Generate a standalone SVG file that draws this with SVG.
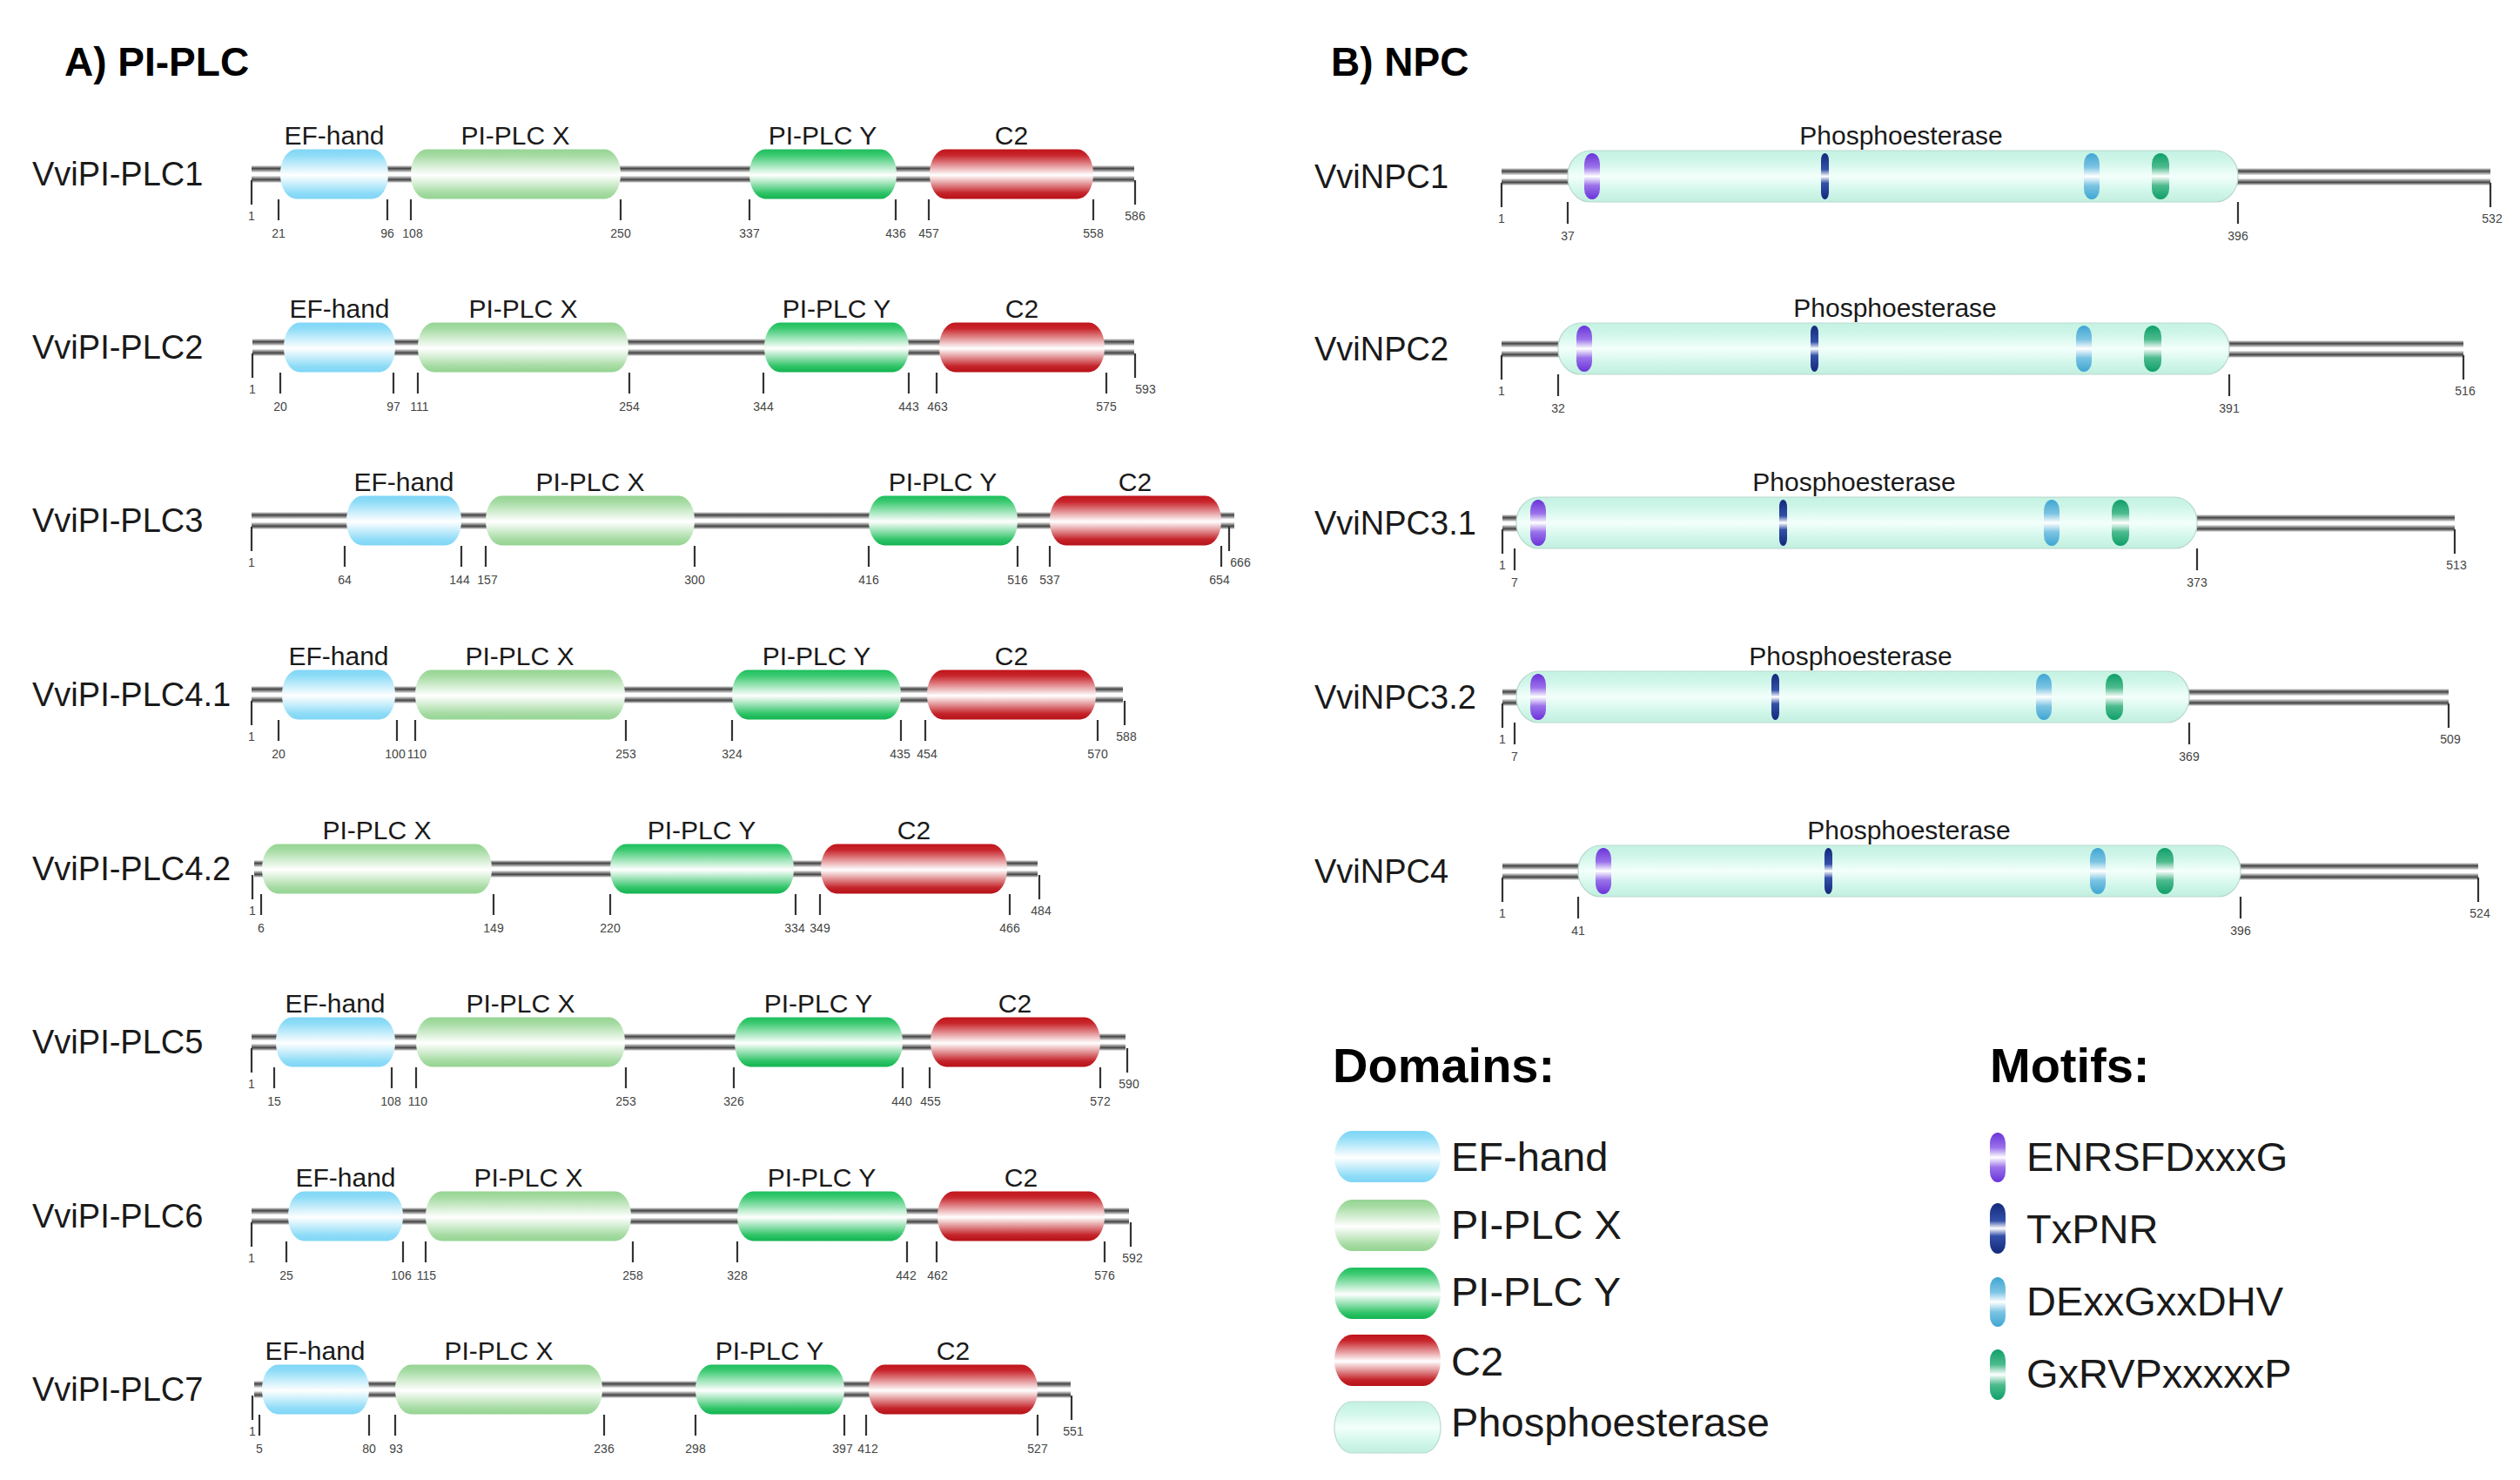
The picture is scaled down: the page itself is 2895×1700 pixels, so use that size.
<svg xmlns="http://www.w3.org/2000/svg" width="2895" height="1700" viewBox="0 0 2895 1700">
<defs>
<linearGradient id="gBB" x1="0" y1="0" x2="0" y2="1">
<stop offset="0" stop-color="#fff"/><stop offset="0.08" stop-color="#9a9a9a"/><stop offset="0.18" stop-color="#474747"/><stop offset="0.3" stop-color="#9a9a9a"/><stop offset="0.42" stop-color="#fff"/><stop offset="0.58" stop-color="#fff"/><stop offset="0.7" stop-color="#9a9a9a"/><stop offset="0.82" stop-color="#474747"/><stop offset="0.92" stop-color="#9a9a9a"/><stop offset="1" stop-color="#fff"/>
</linearGradient>
<linearGradient id="gEF" x1="0" y1="0" x2="0" y2="1">
<stop offset="0" stop-color="#7fd6f6"/><stop offset="0.12" stop-color="#8edcf7"/><stop offset="0.52" stop-color="#ffffff"/><stop offset="0.88" stop-color="#8edcf7"/><stop offset="1" stop-color="#7fd6f6"/>
</linearGradient>
<linearGradient id="gX" x1="0" y1="0" x2="0" y2="1">
<stop offset="0" stop-color="#95d492"/><stop offset="0.12" stop-color="#a5dba2"/><stop offset="0.52" stop-color="#ffffff"/><stop offset="0.88" stop-color="#a5dba2"/><stop offset="1" stop-color="#95d492"/>
</linearGradient>
<linearGradient id="gY" x1="0" y1="0" x2="0" y2="1">
<stop offset="0" stop-color="#1cbf5c"/><stop offset="0.12" stop-color="#3dca72"/><stop offset="0.52" stop-color="#ffffff"/><stop offset="0.88" stop-color="#30c468"/><stop offset="1" stop-color="#12b350"/>
</linearGradient>
<linearGradient id="gC2" x1="0" y1="0" x2="0" y2="1">
<stop offset="0" stop-color="#c0141b"/><stop offset="0.12" stop-color="#c8262c"/><stop offset="0.52" stop-color="#ffffff"/><stop offset="0.88" stop-color="#c4242a"/><stop offset="1" stop-color="#b71118"/>
</linearGradient>
<linearGradient id="gPh" x1="0" y1="0" x2="0" y2="1">
<stop offset="0" stop-color="#c4f2e2"/><stop offset="0.2" stop-color="#cff6e9"/><stop offset="0.5" stop-color="#f3fffb"/><stop offset="0.8" stop-color="#cff6e9"/><stop offset="1" stop-color="#c2efdf"/>
</linearGradient>
<linearGradient id="mP" x1="0" y1="0" x2="0" y2="1">
<stop offset="0" stop-color="#6b33d9"/><stop offset="0.3" stop-color="#9a72ea"/><stop offset="0.5" stop-color="#ffffff"/><stop offset="0.7" stop-color="#9a72ea"/><stop offset="1" stop-color="#6b33d9"/>
</linearGradient>
<linearGradient id="mB" x1="0" y1="0" x2="0" y2="1">
<stop offset="0" stop-color="#13297a"/><stop offset="0.35" stop-color="#3350a8"/><stop offset="0.5" stop-color="#ffffff"/><stop offset="0.65" stop-color="#3350a8"/><stop offset="1" stop-color="#13297a"/>
</linearGradient>
<linearGradient id="mL" x1="0" y1="0" x2="0" y2="1">
<stop offset="0" stop-color="#3fa6d2"/><stop offset="0.3" stop-color="#7cc4e3"/><stop offset="0.5" stop-color="#ffffff"/><stop offset="0.7" stop-color="#7cc4e3"/><stop offset="1" stop-color="#3fa6d2"/>
</linearGradient>
<linearGradient id="mG" x1="0" y1="0" x2="0" y2="1">
<stop offset="0" stop-color="#0e9f68"/><stop offset="0.3" stop-color="#4dbb8e"/><stop offset="0.5" stop-color="#ffffff"/><stop offset="0.7" stop-color="#4dbb8e"/><stop offset="1" stop-color="#0e9f68"/>
</linearGradient>
</defs>
<style>
text{font-family:"Liberation Sans",Arial,sans-serif;fill:#1a1a1a}
.ttl{font-size:46px;font-weight:bold;fill:#000}
.lg{font-size:56px;font-weight:bold;fill:#000}
.lbl{font-size:38px}
.dl{font-size:30px;text-anchor:middle}
.n{font-size:14px;text-anchor:middle;fill:#444}
.li{font-size:47px}
.tk{stroke:#333;stroke-width:2.2}
.bb{fill:url(#gBB)}
.ef{fill:url(#gEF)}
.x{fill:url(#gX)}
.y{fill:url(#gY)}
.c2{fill:url(#gC2)}
.ph{fill:url(#gPh);stroke:#b9d9cd;stroke-width:1.2}
.mp{fill:url(#mP)}
.mb{fill:url(#mB)}
.ml{fill:url(#mL)}
.mg{fill:url(#mG)}
</style>
<rect width="2895" height="1700" fill="#fff"/>
<text class="ttl" x="74" y="87">A) PI-PLC</text>
<text class="ttl" x="1529" y="87">B) NPC</text>

<g id="plc1">
<text class="lbl" x="37" y="213">VviPI-PLC1</text>
<rect class="bb" x="289" y="190" width="1014" height="20"/>
<rect class="ef" x="322" y="171.5" width="124" height="57" rx="18" ry="28"/>
<rect class="x" x="472" y="171.5" width="241" height="57" rx="18" ry="28"/>
<rect class="y" x="861" y="171.5" width="169" height="57" rx="18" ry="28"/>
<rect class="c2" x="1068" y="171.5" width="188" height="57" rx="18" ry="28"/>
<text class="dl" x="384" y="166">EF-hand</text><text class="dl" x="592" y="166">PI-PLC X</text><text class="dl" x="945" y="166">PI-PLC Y</text><text class="dl" x="1162" y="166">C2</text>
<path class="tk" d="M289 207V235M1304 207V235M320 229V253M445 229V253M472 229V253M713 229V253M861 229V253M1029 229V253M1067 229V253M1256 229V253"/>
<text class="n" x="289" y="253">1</text><text class="n" x="1304" y="253">586</text>
<text class="n" x="320" y="273">21</text><text class="n" x="445" y="273">96</text><text class="n" x="474" y="273">108</text><text class="n" x="713" y="273">250</text><text class="n" x="861" y="273">337</text><text class="n" x="1029" y="273">436</text><text class="n" x="1067" y="273">457</text><text class="n" x="1256" y="273">558</text>
</g>

<g id="plc2">
<text class="lbl" x="37" y="412">VviPI-PLC2</text>
<rect class="bb" x="290" y="389" width="1013" height="20"/>
<rect class="ef" x="326" y="370.5" width="128" height="57" rx="18" ry="28"/>
<rect class="x" x="480" y="370.5" width="242" height="57" rx="18" ry="28"/>
<rect class="y" x="878" y="370.5" width="166" height="57" rx="18" ry="28"/>
<rect class="c2" x="1079" y="370.5" width="190" height="57" rx="18" ry="28"/>
<text class="dl" x="390" y="365">EF-hand</text><text class="dl" x="601" y="365">PI-PLC X</text><text class="dl" x="961" y="365">PI-PLC Y</text><text class="dl" x="1174" y="365">C2</text>
<path class="tk" d="M290 406V434M1304 406V434M322 428V452M452 428V452M480 428V452M723 428V452M877 428V452M1044 428V452M1076 428V452M1271 428V452"/>
<text class="n" x="290" y="452">1</text><text class="n" x="1316" y="452">593</text>
<text class="n" x="322" y="472">20</text><text class="n" x="452" y="472">97</text><text class="n" x="482" y="472">111</text><text class="n" x="723" y="472">254</text><text class="n" x="877" y="472">344</text><text class="n" x="1044" y="472">443</text><text class="n" x="1077" y="472">463</text><text class="n" x="1271" y="472">575</text>
</g>

<g id="plc3">
<text class="lbl" x="37" y="611">VviPI-PLC3</text>
<rect class="bb" x="289" y="588" width="1129" height="20"/>
<rect class="ef" x="398" y="569.5" width="132" height="57" rx="18" ry="28"/>
<rect class="x" x="558" y="569.5" width="240" height="57" rx="18" ry="28"/>
<rect class="y" x="998" y="569.5" width="171" height="57" rx="18" ry="28"/>
<rect class="c2" x="1206" y="569.5" width="197" height="57" rx="18" ry="28"/>
<text class="dl" x="464" y="564">EF-hand</text><text class="dl" x="678" y="564">PI-PLC X</text><text class="dl" x="1083" y="564">PI-PLC Y</text><text class="dl" x="1304" y="564">C2</text>
<path class="tk" d="M289 605V633M1412 605V633M396 627V651M530 627V651M558 627V651M798 627V651M998 627V651M1169 627V651M1206 627V651M1403 627V651"/>
<text class="n" x="289" y="651">1</text><text class="n" x="1425" y="651">666</text>
<text class="n" x="396" y="671">64</text><text class="n" x="528" y="671">144</text><text class="n" x="560" y="671">157</text><text class="n" x="798" y="671">300</text><text class="n" x="998" y="671">416</text><text class="n" x="1169" y="671">516</text><text class="n" x="1206" y="671">537</text><text class="n" x="1401" y="671">654</text>
</g>

<g id="plc41">
<text class="lbl" x="37" y="811">VviPI-PLC4.1</text>
<rect class="bb" x="289" y="788" width="1001" height="20"/>
<rect class="ef" x="324" y="769.5" width="130" height="57" rx="18" ry="28"/>
<rect class="x" x="477" y="769.5" width="241" height="57" rx="18" ry="28"/>
<rect class="y" x="841" y="769.5" width="194" height="57" rx="18" ry="28"/>
<rect class="c2" x="1065" y="769.5" width="194" height="57" rx="18" ry="28"/>
<text class="dl" x="389" y="764">EF-hand</text><text class="dl" x="597" y="764">PI-PLC X</text><text class="dl" x="938" y="764">PI-PLC Y</text><text class="dl" x="1162" y="764">C2</text>
<path class="tk" d="M289 805V833M1292 805V833M320 827V851M456 827V851M477 827V851M719 827V851M841 827V851M1035 827V851M1063 827V851M1261 827V851"/>
<text class="n" x="289" y="851">1</text><text class="n" x="1294" y="851">588</text>
<text class="n" x="320" y="871">20</text><text class="n" x="454" y="871">100</text><text class="n" x="479" y="871">110</text><text class="n" x="719" y="871">253</text><text class="n" x="841" y="871">324</text><text class="n" x="1034" y="871">435</text><text class="n" x="1065" y="871">454</text><text class="n" x="1261" y="871">570</text>
</g>

<g id="plc42">
<text class="lbl" x="37" y="1011">VviPI-PLC4.2</text>
<rect class="bb" x="292" y="988" width="900" height="20"/>
<rect class="x" x="301" y="969.5" width="264" height="57" rx="18" ry="28"/>
<rect class="y" x="701" y="969.5" width="211" height="57" rx="18" ry="28"/>
<rect class="c2" x="943" y="969.5" width="214" height="57" rx="18" ry="28"/>
<text class="dl" x="433" y="964">PI-PLC X</text><text class="dl" x="806" y="964">PI-PLC Y</text><text class="dl" x="1050" y="964">C2</text>
<path class="tk" d="M290 1005V1033M1194 1005V1033M300 1027V1051M567 1027V1051M701 1027V1051M914 1027V1051M942 1027V1051M1160 1027V1051"/>
<text class="n" x="290" y="1051">1</text><text class="n" x="1196" y="1051">484</text>
<text class="n" x="300" y="1071">6</text><text class="n" x="567" y="1071">149</text><text class="n" x="701" y="1071">220</text><text class="n" x="913" y="1071">334</text><text class="n" x="942" y="1071">349</text><text class="n" x="1160" y="1071">466</text>
</g>

<g id="plc5">
<text class="lbl" x="37" y="1210">VviPI-PLC5</text>
<rect class="bb" x="289" y="1187" width="1004" height="20"/>
<rect class="ef" x="317" y="1168.5" width="137" height="57" rx="18" ry="28"/>
<rect class="x" x="478" y="1168.5" width="240" height="57" rx="18" ry="28"/>
<rect class="y" x="844" y="1168.5" width="193" height="57" rx="18" ry="28"/>
<rect class="c2" x="1069" y="1168.5" width="195" height="57" rx="18" ry="28"/>
<text class="dl" x="385" y="1163">EF-hand</text><text class="dl" x="598" y="1163">PI-PLC X</text><text class="dl" x="940" y="1163">PI-PLC Y</text><text class="dl" x="1166" y="1163">C2</text>
<path class="tk" d="M289 1204V1232M1295 1204V1232M315 1226V1250M450 1226V1250M478 1226V1250M719 1226V1250M843 1226V1250M1037 1226V1250M1068 1226V1250M1264 1226V1250"/>
<text class="n" x="289" y="1250">1</text><text class="n" x="1297" y="1250">590</text>
<text class="n" x="315" y="1270">15</text><text class="n" x="449" y="1270">108</text><text class="n" x="480" y="1270">110</text><text class="n" x="719" y="1270">253</text><text class="n" x="843" y="1270">326</text><text class="n" x="1036" y="1270">440</text><text class="n" x="1069" y="1270">455</text><text class="n" x="1264" y="1270">572</text>
</g>

<g id="plc6">
<text class="lbl" x="37" y="1410">VviPI-PLC6</text>
<rect class="bb" x="289" y="1387" width="1008" height="20"/>
<rect class="ef" x="331" y="1368.5" width="132" height="57" rx="18" ry="28"/>
<rect class="x" x="489" y="1368.5" width="236" height="57" rx="18" ry="28"/>
<rect class="y" x="847" y="1368.5" width="195" height="57" rx="18" ry="28"/>
<rect class="c2" x="1077" y="1368.5" width="192" height="57" rx="18" ry="28"/>
<text class="dl" x="397" y="1363">EF-hand</text><text class="dl" x="607" y="1363">PI-PLC X</text><text class="dl" x="944" y="1363">PI-PLC Y</text><text class="dl" x="1173" y="1363">C2</text>
<path class="tk" d="M289 1404V1432M1299 1404V1432M329 1426V1450M463 1426V1450M489 1426V1450M727 1426V1450M847 1426V1450M1042 1426V1450M1076 1426V1450M1269 1426V1450"/>
<text class="n" x="289" y="1450">1</text><text class="n" x="1301" y="1450">592</text>
<text class="n" x="329" y="1470">25</text><text class="n" x="461" y="1470">106</text><text class="n" x="490" y="1470">115</text><text class="n" x="727" y="1470">258</text><text class="n" x="847" y="1470">328</text><text class="n" x="1041" y="1470">442</text><text class="n" x="1077" y="1470">462</text><text class="n" x="1269" y="1470">576</text>
</g>

<g id="plc7">
<text class="lbl" x="37" y="1609">VviPI-PLC7</text>
<rect class="bb" x="292" y="1586" width="938" height="20"/>
<rect class="ef" x="301" y="1567.5" width="123" height="57" rx="18" ry="28"/>
<rect class="x" x="454" y="1567.5" width="238" height="57" rx="18" ry="28"/>
<rect class="y" x="799" y="1567.5" width="171" height="57" rx="18" ry="28"/>
<rect class="c2" x="998" y="1567.5" width="194" height="57" rx="18" ry="28"/>
<text class="dl" x="362" y="1562">EF-hand</text><text class="dl" x="573" y="1562">PI-PLC X</text><text class="dl" x="884" y="1562">PI-PLC Y</text><text class="dl" x="1095" y="1562">C2</text>
<path class="tk" d="M290 1603V1631M1231 1603V1631M298 1625V1649M424 1625V1649M454 1625V1649M694 1625V1649M799 1625V1649M970 1625V1649M995 1625V1649M1192 1625V1649"/>
<text class="n" x="290" y="1649">1</text><text class="n" x="1233" y="1649">551</text>
<text class="n" x="298" y="1669">5</text><text class="n" x="424" y="1669">80</text><text class="n" x="455" y="1669">93</text><text class="n" x="694" y="1669">236</text><text class="n" x="799" y="1669">298</text><text class="n" x="968" y="1669">397</text><text class="n" x="997" y="1669">412</text><text class="n" x="1192" y="1669">527</text>
</g>

<g id="npc1">
<text class="lbl" x="1510" y="216">VviNPC1</text>
<rect class="bb" x="1725" y="193" width="1136" height="20"/>
<rect class="ph" x="1801" y="173" width="770" height="59" rx="26" ry="29"/>
<rect class="mp" x="1820" y="176" width="18" height="53" rx="9" ry="12"/>
<rect class="mb" x="2092" y="176" width="9" height="53" rx="4.5" ry="8"/>
<rect class="ml" x="2394" y="176" width="18" height="53" rx="9" ry="12"/>
<rect class="mg" x="2472" y="176" width="20" height="53" rx="10" ry="12"/>
<text class="dl" x="2184" y="166">Phosphoesterase</text>
<path class="tk" d="M1725 210V238M2861 210V238M1801 232V257M2571 232V257"/>
<text class="n" x="1725" y="256">1</text><text class="n" x="2863" y="256">532</text>
<text class="n" x="1801" y="276">37</text><text class="n" x="2571" y="276">396</text>
</g>

<g id="npc2">
<text class="lbl" x="1510" y="414">VviNPC2</text>
<rect class="bb" x="1725" y="391" width="1105" height="20"/>
<rect class="ph" x="1790" y="371" width="771" height="59" rx="26" ry="29"/>
<rect class="mp" x="1811" y="374" width="18" height="53" rx="9" ry="12"/>
<rect class="mb" x="2080" y="374" width="9" height="53" rx="4.5" ry="8"/>
<rect class="ml" x="2385" y="374" width="18" height="53" rx="9" ry="12"/>
<rect class="mg" x="2463" y="374" width="20" height="53" rx="10" ry="12"/>
<text class="dl" x="2177" y="364">Phosphoesterase</text>
<path class="tk" d="M1725 408V436M2830 408V436M1790 430V455M2561 430V455"/>
<text class="n" x="1725" y="454">1</text><text class="n" x="2832" y="454">516</text>
<text class="n" x="1790" y="474">32</text><text class="n" x="2561" y="474">391</text>
</g>

<g id="npc31">
<text class="lbl" x="1510" y="614">VviNPC3.1</text>
<rect class="bb" x="1726" y="591" width="1094" height="20"/>
<rect class="ph" x="1742" y="571" width="782" height="59" rx="26" ry="29"/>
<rect class="mp" x="1758" y="574" width="18" height="53" rx="9" ry="12"/>
<rect class="mb" x="2044" y="574" width="9" height="53" rx="4.5" ry="8"/>
<rect class="ml" x="2348" y="574" width="18" height="53" rx="9" ry="12"/>
<rect class="mg" x="2426" y="574" width="20" height="53" rx="10" ry="12"/>
<text class="dl" x="2130" y="564">Phosphoesterase</text>
<path class="tk" d="M1726 608V636M2820 608V636M1740 630V655M2524 630V655"/>
<text class="n" x="1726" y="654">1</text><text class="n" x="2822" y="654">513</text>
<text class="n" x="1740" y="674">7</text><text class="n" x="2524" y="674">373</text>
</g>

<g id="npc32">
<text class="lbl" x="1510" y="814">VviNPC3.2</text>
<rect class="bb" x="1726" y="791" width="1087" height="20"/>
<rect class="ph" x="1742" y="771" width="773" height="59" rx="26" ry="29"/>
<rect class="mp" x="1758" y="774" width="18" height="53" rx="9" ry="12"/>
<rect class="mb" x="2035" y="774" width="9" height="53" rx="4.5" ry="8"/>
<rect class="ml" x="2339" y="774" width="18" height="53" rx="9" ry="12"/>
<rect class="mg" x="2419" y="774" width="20" height="53" rx="10" ry="12"/>
<text class="dl" x="2126" y="764">Phosphoesterase</text>
<path class="tk" d="M1726 808V836M2813 808V836M1740 830V855M2515 830V855"/>
<text class="n" x="1726" y="854">1</text><text class="n" x="2815" y="854">509</text>
<text class="n" x="1740" y="874">7</text><text class="n" x="2515" y="874">369</text>
</g>

<g id="npc4">
<text class="lbl" x="1510" y="1014">VviNPC4</text>
<rect class="bb" x="1726" y="991" width="1121" height="20"/>
<rect class="ph" x="1813" y="971" width="761" height="59" rx="26" ry="29"/>
<rect class="mp" x="1833" y="974" width="18" height="53" rx="9" ry="12"/>
<rect class="mb" x="2096" y="974" width="9" height="53" rx="4.5" ry="8"/>
<rect class="ml" x="2401" y="974" width="18" height="53" rx="9" ry="12"/>
<rect class="mg" x="2477" y="974" width="20" height="53" rx="10" ry="12"/>
<text class="dl" x="2193" y="964">Phosphoesterase</text>
<path class="tk" d="M1726 1008V1036M2847 1008V1036M1813 1030V1055M2574 1030V1055"/>
<text class="n" x="1726" y="1054">1</text><text class="n" x="2849" y="1054">524</text>
<text class="n" x="1813" y="1074">41</text><text class="n" x="2574" y="1074">396</text>
</g>

<g id="legend-domains">
<text class="lg" x="1531" y="1243">Domains:</text>
<rect class="ef" x="1533" y="1299" width="122" height="59" rx="20" ry="29"/>
<text class="li" x="1667" y="1345">EF-hand</text>
<rect class="x" x="1533" y="1378" width="122" height="59" rx="20" ry="29"/>
<text class="li" x="1667" y="1423">PI-PLC X</text>
<rect class="y" x="1533" y="1456" width="122" height="59" rx="20" ry="29"/>
<text class="li" x="1667" y="1500">PI-PLC Y</text>
<rect class="c2" x="1533" y="1533" width="122" height="59" rx="20" ry="29"/>
<text class="li" x="1667" y="1580">C2</text>
<rect class="ph" x="1533" y="1610" width="122" height="59" rx="20" ry="29"/>
<text class="li" x="1667" y="1650">Phosphoesterase</text>
</g>

<g id="legend-motifs">
<text class="lg" x="2286" y="1243">Motifs:</text>
<rect class="mp" x="2286" y="1301" width="18" height="57" rx="9" ry="12"/>
<text class="li" x="2328" y="1345">ENRSFDxxxG</text>
<rect class="mb" x="2286" y="1382" width="18" height="58" rx="9" ry="12"/>
<text class="li" x="2328" y="1428">TxPNR</text>
<rect class="ml" x="2286" y="1467" width="18" height="57" rx="9" ry="12"/>
<text class="li" x="2328" y="1511">DExxGxxDHV</text>
<rect class="mg" x="2286" y="1550" width="18" height="58" rx="9" ry="12"/>
<text class="li" x="2328" y="1594">GxRVPxxxxxP</text>
</g>
</svg>
